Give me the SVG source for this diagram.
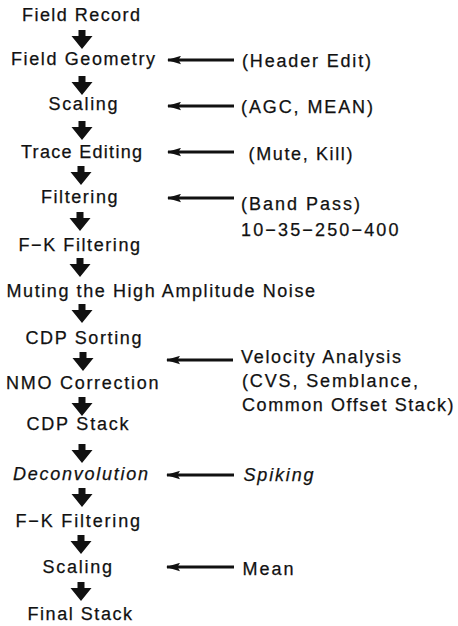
<svg xmlns="http://www.w3.org/2000/svg" width="458" height="626" viewBox="0 0 458 626">
<style>
text{font-family:"Liberation Sans",Arial,sans-serif;font-size:18px;fill:#111;stroke:#111;stroke-width:0.25}
.it{font-style:italic}
.h{stroke:#111;stroke-width:2.8;fill:none}
</style>
<defs>
<path id="down" d="M-3.5,0 H3.5 V6 H10.5 L0,19 L-10.5,6 H-3.5 Z" fill="#111"/>
<marker id="ah" markerWidth="14" markerHeight="9" refX="13" refY="4.5" orient="auto" markerUnits="userSpaceOnUse">
<path d="M14,4.5 L0,0.3 L2.5,4.5 L0,8.7 Z" fill="#111"/>
</marker>
</defs>
<g id="connectors">
<use href="#down" x="82" y="30"/>
<use href="#down" x="82" y="76"/>
<use href="#down" x="82" y="121"/>
<use href="#down" x="81" y="166"/>
<use href="#down" x="80" y="212"/>
<use href="#down" x="80" y="258"/>
<use href="#down" x="82" y="304"/>
<use href="#down" x="83" y="352"/>
<use href="#down" x="82" y="397"/>
<use href="#down" x="82" y="444"/>
<use href="#down" x="82" y="488"/>
<use href="#down" x="81" y="535"/>
<use href="#down" x="81" y="582"/>
<line class="h" x1="234" y1="60" x2="168" y2="60" marker-end="url(#ah)"/>
<line class="h" x1="234" y1="106" x2="168" y2="106" marker-end="url(#ah)"/>
<line class="h" x1="234" y1="152" x2="168" y2="152" marker-end="url(#ah)"/>
<line class="h" x1="234" y1="198" x2="168" y2="198" marker-end="url(#ah)"/>
<line class="h" x1="233" y1="360" x2="167" y2="360" marker-end="url(#ah)"/>
<line class="h" x1="234" y1="475" x2="167" y2="475" marker-end="url(#ah)"/>
<line class="h" x1="234" y1="567" x2="167" y2="567" marker-end="url(#ah)"/>
</g>
<g id="n1"><text x="22" y="20.7" textLength="118" lengthAdjust="spacing">Field Record</text></g>
<g id="n2"><text x="11" y="65" textLength="144" lengthAdjust="spacing">Field Geometry</text></g>
<g id="n3"><text x="48.5" y="110" textLength="69" lengthAdjust="spacing">Scaling</text></g>
<g id="n4"><text x="21" y="158" textLength="121" lengthAdjust="spacing">Trace Editing</text></g>
<g id="n5"><text x="41" y="203" textLength="76.5" lengthAdjust="spacing">Filtering</text></g>
<g id="n6"><text x="18.5" y="250.5" textLength="121.5" lengthAdjust="spacing">F−K Filtering</text></g>
<g id="n7"><text x="6.5" y="296.7" textLength="308.5" lengthAdjust="spacing">Muting the High Amplitude Noise</text></g>
<g id="n8"><text x="25.5" y="344" textLength="116" lengthAdjust="spacing">CDP Sorting</text></g>
<g id="n9"><text x="6" y="388.5" textLength="152.5" lengthAdjust="spacing">NMO Correction</text></g>
<g id="n10"><text x="26.5" y="430" textLength="102" lengthAdjust="spacing">CDP Stack</text></g>
<g id="n11"><text class="it" x="13" y="480" textLength="135" lengthAdjust="spacing">Deconvolution</text></g>
<g id="n12"><text x="15.5" y="527.3" textLength="124.5" lengthAdjust="spacing">F−K Filtering</text></g>
<g id="n13"><text x="42.5" y="573.3" textLength="69.5" lengthAdjust="spacing">Scaling</text></g>
<g id="n14"><text x="27.5" y="620" textLength="104.5" lengthAdjust="spacing">Final Stack</text></g>
<g id="r1"><text x="242" y="66.5" textLength="129" lengthAdjust="spacing">(Header Edit)</text></g>
<g id="r2"><text x="241" y="113" textLength="132" lengthAdjust="spacing">(AGC, MEAN)</text></g>
<g id="r3"><text x="248.5" y="160" textLength="104" lengthAdjust="spacing">(Mute, Kill)</text></g>
<g id="r4"><text x="241" y="209.5" textLength="119" lengthAdjust="spacing">(Band Pass)</text><text x="241" y="236" textLength="157.5" lengthAdjust="spacing">10−35−250−400</text></g>
<g id="r5"><text x="241" y="363.3" textLength="160" lengthAdjust="spacing">Velocity Analysis</text><text x="242" y="387" textLength="176" lengthAdjust="spacing">(CVS, Semblance,</text><text x="242" y="411" textLength="211.5" lengthAdjust="spacing">Common Offset Stack)</text></g>
<g id="r6"><text class="it" x="243.5" y="480.5" textLength="70" lengthAdjust="spacing">Spiking</text></g>
<g id="r7"><text x="242.5" y="575" textLength="51" lengthAdjust="spacing">Mean</text></g>
</svg>
